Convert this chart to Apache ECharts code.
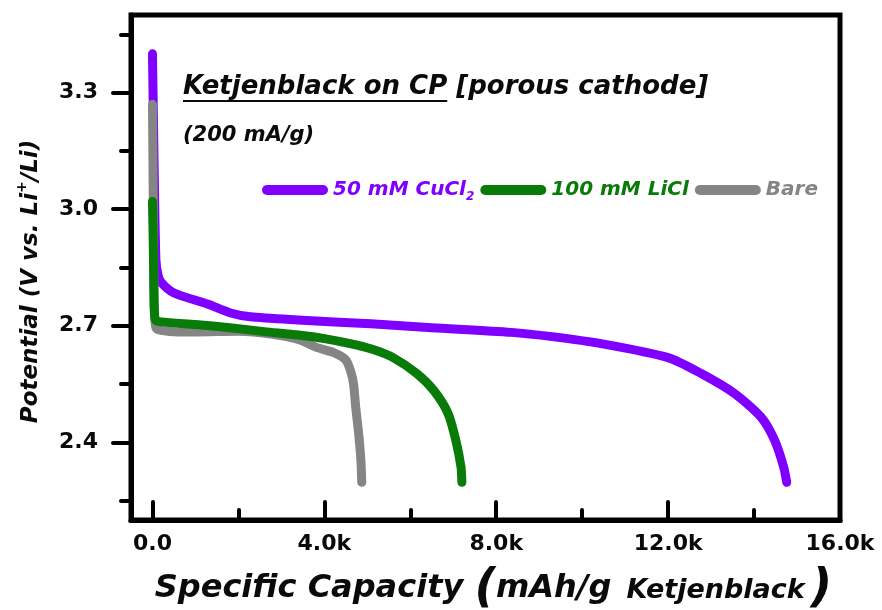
<!DOCTYPE html>
<html>
<head>
<meta charset="utf-8">
<script src="https://cdn.jsdelivr.net/npm/echarts@6/dist/echarts.min.js"></script>
<style>
html,body{margin:0;padding:0;background:#fff;}
#chart{width:882px;height:610px;}
</style>
</head>
<body>
<div id="chart"></div>
<script>
// ---- data (capacity in mAh/g, potential in V) ----
const cuclCap = [0, 40, 80, 130, 200, 490, 1280, 1820, 2280, 3380, 5080, 6500, 8350, 9300, 10440, 12000, 12770, 13540, 14170, 14480, 14690, 14760];
const cuclV   = [3.40, 3.10, 2.87, 2.83, 2.812, 2.785, 2.756, 2.733, 2.723, 2.715, 2.705, 2.695, 2.683, 2.672, 2.654, 2.618, 2.577, 2.526, 2.464, 2.405, 2.336, 2.297];

const liclCap = [0, 20, 40, 70, 200, 1000, 1800, 2600, 3400, 4000, 4600, 5100, 5600, 6150, 6550, 6880, 7060, 7180, 7200];
const liclV   = [3.02, 2.90, 2.75, 2.715, 2.710, 2.703, 2.695, 2.685, 2.676, 2.667, 2.654, 2.640, 2.618, 2.577, 2.533, 2.474, 2.405, 2.336, 2.297];

const bareCap = [0, 20, 40, 80, 200, 600, 1000, 2000, 2800, 3450, 3800, 4220, 4500, 4620, 4680, 4730, 4800, 4850, 4870];
const bareV   = [3.27, 3.00, 2.75, 2.695, 2.688, 2.684, 2.684, 2.686, 2.678, 2.663, 2.645, 2.631, 2.612, 2.580, 2.550, 2.490, 2.420, 2.354, 2.297];

const seriesNames = ['50 mM CuCl2', '100 mM LiCl', 'Bare'];
const seriesColors = ['#7F00FF', '#087B08', '#858585'];

const xMajorTicks = [0, 4000, 8000, 12000, 16000];
const xMinorTicks = [2000, 6000, 10000, 14000];
const yMajorTicks = [2.4, 2.7, 3.0, 3.3];
const yMinorTicks = [2.25, 2.55, 2.85, 3.15, 3.45];

const titleMain = 'Ketjenblack on CP';
const titleRest = '[porous cathode]';
const subTitle = '(200 mA/g)';

// ---- helpers ----
const FAM = '"DejaVu Sans", "Liberation Sans", sans-serif';
const pairs = (xs, ys) => xs.map((x, i) => [x, ys[i]]);

const mctx = document.createElement('canvas').getContext('2d');
const titleFont = 'italic bold 26px ' + FAM;
mctx.font = titleFont;
const wMain = mctx.measureText(titleMain).width;
const wSpace = mctx.measureText(' ').width;
const titleX = 183;

const chart = echarts.init(document.getElementById('chart'), null, {renderer: 'canvas'});

const axisLineStyle = {color: '#000', width: 5};
const tickStyle = {color: '#000', width: 4, cap: 'round'};
const TXT = '#0a0a0a';

const lineSeries = (name, color, data, z) => ({
  name: name, type: 'line', data: data, showSymbol: false, symbol: 'none', smooth: 0.25,
  color: color, lineStyle: {width: 9, color: color, cap: 'round', join: 'round'}, z: z
});

const option = {
  backgroundColor: '#fff',
  animation: false,
  grid: {
    left: 131, right: 42, top: 15, bottom: 90, show: true, borderColor: '#000', borderWidth: 5,
    backgroundColor: 'transparent', containLabel: false, outerBoundsMode: 'none'
  },
  xAxis: [
    {
      type: 'value', min: -500, max: 16000, position: 'bottom',
      axisLine: {show: true, onZero: false, lineStyle: axisLineStyle},
      axisTick: {show: true, inside: true, length: 18, customValues: xMajorTicks, lineStyle: tickStyle},
      axisLabel: {
        show: true, customValues: xMajorTicks, margin: 13,
        fontFamily: FAM, fontWeight: 'bold', fontSize: 22, color: TXT,
        formatter: v => v === 0 ? '0.0' : (v / 1000).toFixed(1) + 'k'
      },
      splitLine: {show: false},
      name: '{t|Specific Capacity }{p|(}{t|mAh/g }{k|Ketjenblack}{p|)}',
      nameLocation: 'middle', nameGap: 44,
      nameTextStyle: {
        padding: [0, 0, 0, 16],
        rich: {
          t: {fontFamily: FAM, fontWeight: 'bold', fontStyle: 'italic', fontSize: 32, color: TXT, verticalAlign: 'middle', lineHeight: 40},
          p: {fontFamily: FAM, fontWeight: 'bold', fontStyle: 'italic', fontSize: 47, color: TXT, verticalAlign: 'middle', lineHeight: 50},
          k: {fontFamily: FAM, fontWeight: 'bold', fontStyle: 'italic', fontSize: 27, color: TXT, verticalAlign: 'middle', lineHeight: 34, padding: [4, 6, 0, 4]}
        }
      }
    },
    {
      type: 'value', min: -500, max: 16000, position: 'bottom', offset: 0,
      axisLine: {show: false, onZero: false},
      axisTick: {show: true, inside: true, length: 10, customValues: xMinorTicks, lineStyle: tickStyle},
      axisLabel: {show: false},
      splitLine: {show: false}
    }
  ],
  yAxis: [
    {
      type: 'value', min: 2.2, max: 3.5, position: 'left',
      axisLine: {show: true, onZero: false, lineStyle: axisLineStyle},
      axisTick: {show: true, inside: false, length: 18, customValues: yMajorTicks, lineStyle: tickStyle},
      axisLabel: {
        show: true, customValues: yMajorTicks, margin: 33,
        fontFamily: FAM, fontWeight: 'bold', fontSize: 22, color: TXT,
        formatter: v => v.toFixed(1)
      },
      splitLine: {show: false},
      name: '{a|Potential (V vs. Li}{s|+}{e|/Li)}',
      nameLocation: 'middle', nameGap: 88, nameRotate: 90,
      nameTextStyle: {
        rich: {
          a: {fontFamily: FAM, fontWeight: 'bold', fontStyle: 'italic', fontSize: 23, color: TXT, lineHeight: 28, verticalAlign: 'bottom'},
          s: {fontFamily: FAM, fontWeight: 'bold', fontStyle: 'italic', fontSize: 14, color: TXT, lineHeight: 14, verticalAlign: 'top'},
          e: {fontFamily: FAM, fontWeight: 'bold', fontStyle: 'italic', fontSize: 23, color: TXT, lineHeight: 28, verticalAlign: 'bottom', padding: [0, 28, 0, 0]}
        }
      }
    },
    {
      type: 'value', min: 2.2, max: 3.5, position: 'left', offset: 0,
      axisLine: {show: false, onZero: false},
      axisTick: {show: true, inside: false, length: 10, customValues: yMinorTicks, lineStyle: tickStyle},
      axisLabel: {show: false},
      splitLine: {show: false}
    }
  ],
  legend: {
    left: 257, top: 175, itemGap: 6, itemWidth: 66, itemHeight: 10,
    icon: 'path://M5,0 L61,0 A5,5 0 0 1 61,10 L5,10 A5,5 0 0 1 5,0 Z',
    data: [
      {name: seriesNames[0]},
      {name: seriesNames[1]},
      {name: seriesNames[2]}
    ],
    formatter: function (name) {
      if (name === seriesNames[0]) return '{p|50 mM CuCl}{ps|2}';
      if (name === seriesNames[1]) return '{g|100 mM LiCl}';
      return '{b|Bare}';
    },
    textStyle: {
      rich: {
        p: {fontFamily: FAM, fontWeight: 'bold', fontStyle: 'italic', fontSize: 20, color: seriesColors[0], lineHeight: 26, verticalAlign: 'middle'},
        ps: {fontFamily: FAM, fontWeight: 'bold', fontStyle: 'italic', fontSize: 12, color: seriesColors[0], lineHeight: 12, verticalAlign: 'bottom'},
        g: {fontFamily: FAM, fontWeight: 'bold', fontStyle: 'italic', fontSize: 20, color: seriesColors[1], lineHeight: 26, verticalAlign: 'middle'},
        b: {fontFamily: FAM, fontWeight: 'bold', fontStyle: 'italic', fontSize: 20, color: seriesColors[2], lineHeight: 26, verticalAlign: 'middle'}
      }
    }
  },
  graphic: [
    {type: 'text', x: titleX, y: 87, style: {text: titleMain, font: titleFont, fill: TXT, verticalAlign: 'middle', align: 'left'}},
    {type: 'line', shape: {x1: titleX, y1: 101, x2: titleX + wMain, y2: 101}, style: {stroke: TXT, lineWidth: 2}},
    {type: 'text', x: titleX + wMain + wSpace, y: 87, style: {text: titleRest, font: titleFont, fill: TXT, verticalAlign: 'middle', align: 'left'}},
    {type: 'text', x: titleX, y: 136, style: {text: subTitle, font: 'italic bold 21px ' + FAM, fill: TXT, verticalAlign: 'middle', align: 'left'}}
  ],
  series: [
    lineSeries(seriesNames[0], seriesColors[0], pairs(cuclCap, cuclV), 2),
    lineSeries(seriesNames[2], seriesColors[2], pairs(bareCap, bareV), 3),
    lineSeries(seriesNames[1], seriesColors[1], pairs(liclCap, liclV), 4)
  ]
};
chart.setOption(option);
</script>
</body>
</html>
